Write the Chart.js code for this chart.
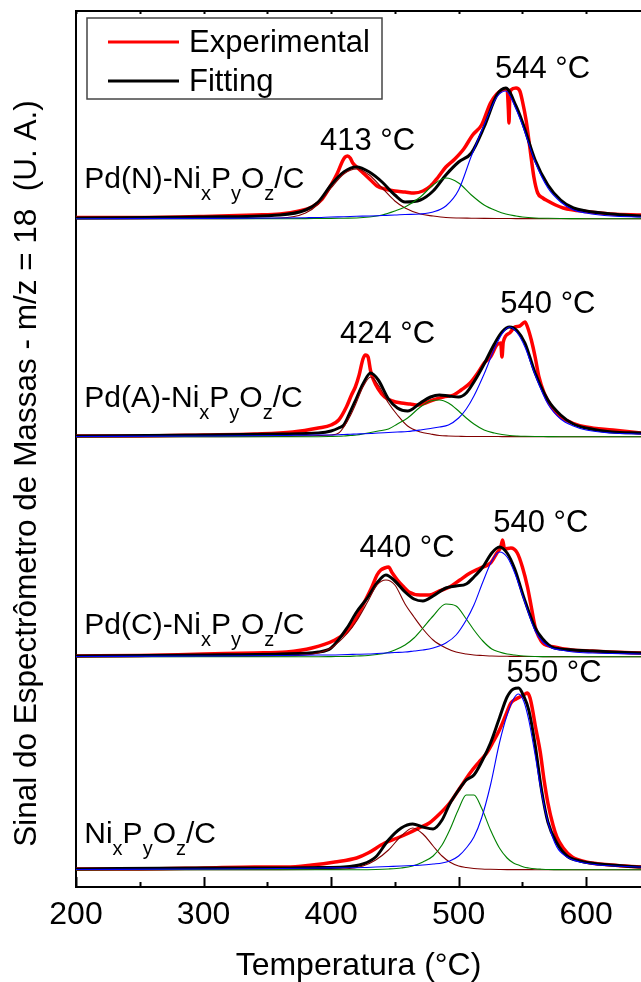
<!DOCTYPE html>
<html>
<head>
<meta charset="utf-8">
<script src="https://cdn.jsdelivr.net/npm/chart.js@4.4.1/dist/chart.umd.min.js"></script>
<style>
  html, body { margin: 0; padding: 0; background: #fff; overflow: hidden; }
  canvas { display: block; }
</style>
</head>
<body>
<canvas id="tpd-chart" width="641" height="982"></canvas>
<script>
// TPD-MS (m/z = 18) profiles. Intensities in a.u.,
// each sample shifted up by its offset so the four curves stack.
const FONT = '"Liberation Sans", Arial, sans-serif';

const sampleNames = ['Pd(N)-Ni_xP_yO_z/C', 'Pd(A)-Ni_xP_yO_z/C', 'Pd(C)-Ni_xP_yO_z/C', 'Ni_xP_yO_z/C'];
const sampleOffsets = [66.8, 45.0, 23.0, 1.7];
const peakTexts = ['413 °C', '544 °C', '424 °C', '540 °C', '440 °C', '540 °C', '550 °C'];
const xTickValues = [200, 300, 400, 500, 600];
const seriesNames = ['Experimental', 'Fitting'];

// --- Pd(N)-NixPyOz/C ---
const fitTempN = [200, 300, 360, 380, 390, 400, 410, 420, 430, 440, 450, 458, 470, 480, 490, 500, 510, 520, 530, 537, 545, 550, 560, 570, 580, 590, 600, 620, 643];
const fitTotalN = [0.1, 0.2, 0.4, 0.9, 1.7, 3.4, 4.7, 5.2, 4.7, 3.7, 2.4, 1.7, 1.9, 2.8, 4.4, 5.7, 6.6, 9.2, 12.4, 13.1, 11.3, 9.7, 5.9, 3.4, 1.9, 1.1, 0.8, 0.5, 0.3];
const peakLowN = [0.02, 0.03, 0.1, 0.6, 1.5, 3.1, 4.5, 5.0, 4.4, 3.1, 1.8, 1.1, 0.5, 0.3, 0.15, 0.1, 0.08, 0.06, 0.05, 0.05, 0.04, 0.04, 0.04, 0.03, 0.03, 0.03, 0.03, 0.02, 0.02];
const peakMidN = [0.02, 0.02, 0.03, 0.04, 0.05, 0.06, 0.08, 0.1, 0.2, 0.4, 0.8, 1.2, 2.2, 3.4, 4.1, 3.6, 2.4, 1.4, 0.8, 0.5, 0.3, 0.2, 0.1, 0.07, 0.05, 0.04, 0.03, 0.03, 0.02];
const peakHighN = [0.03, 0.06, 0.1, 0.13, 0.15, 0.2, 0.23, 0.27, 0.3, 0.35, 0.4, 0.45, 0.5, 0.7, 1.3, 2.9, 6.3, 9.4, 12.2, 12.8, 11.0, 9.4, 5.7, 3.1, 1.7, 0.9, 0.6, 0.3, 0.2];
const expTempN = [200, 250, 300, 340, 360, 375, 385, 393, 400, 405, 409, 411, 413, 415, 417, 421, 426, 431, 436, 442, 450, 458, 465, 472, 478, 484, 490, 497, 504, 511, 518, 525, 530, 534, 538, 539, 539.5, 540, 541, 545, 548, 550, 553, 556, 559, 562, 566, 570, 576, 582, 590, 603, 620, 643];
const expSignalN = [0.15, 0.15, 0.25, 0.4, 0.5, 0.8, 1.2, 2.0, 3.4, 4.6, 5.8, 6.2, 6.3, 6.1, 5.6, 5.1, 4.5, 3.9, 3.3, 3.0, 2.8, 2.7, 2.6, 2.8, 3.3, 4.2, 5.2, 6.0, 7.0, 8.4, 9.4, 11.6, 12.5, 12.9, 13.0, 11.0, 9.6, 11.8, 12.9, 13.1, 12.8, 11.8, 9.8, 7.0, 4.2, 2.6, 2.1, 1.8, 1.4, 1.1, 0.9, 0.7, 0.5, 0.4];

// --- Pd(A)-NixPyOz/C ---
const fitTempA = [200, 300, 360, 390, 400, 406, 410, 415, 420, 425, 431, 437, 445, 452, 460, 470, 478, 485, 492, 500, 506, 512, 520, 528, 534, 540, 546, 552, 560, 570, 580, 590, 600, 620, 643];
const fitTotalA = [0.1, 0.2, 0.3, 0.4, 0.6, 0.9, 1.2, 2.5, 3.9, 5.3, 6.4, 5.7, 3.8, 2.9, 2.6, 3.4, 4.0, 4.2, 4.1, 4.0, 4.4, 5.5, 7.3, 9.3, 10.5, 11.0, 10.6, 9.4, 6.4, 3.7, 2.2, 1.3, 0.9, 0.5, 0.4];
const peakLowA = [0.02, 0.03, 0.05, 0.15, 0.2, 0.4, 1.0, 2.1, 3.5, 5.0, 6.0, 5.2, 3.4, 2.2, 1.1, 0.5, 0.3, 0.15, 0.1, 0.07, 0.05, 0.05, 0.05, 0.05, 0.04, 0.04, 0.04, 0.04, 0.03, 0.03, 0.03, 0.03, 0.02, 0.02, 0.02];
const peakMidA = [0.02, 0.02, 0.03, 0.03, 0.05, 0.07, 0.1, 0.15, 0.2, 0.3, 0.45, 0.6, 0.8, 1.3, 1.9, 3.0, 3.6, 3.7, 3.4, 2.6, 1.9, 1.3, 0.7, 0.4, 0.25, 0.15, 0.1, 0.07, 0.05, 0.04, 0.03, 0.03, 0.03, 0.03, 0.03];
const peakHighA = [0.05, 0.1, 0.15, 0.2, 0.2, 0.22, 0.25, 0.27, 0.3, 0.32, 0.35, 0.4, 0.45, 0.5, 0.55, 0.7, 0.85, 1.0, 1.2, 1.9, 2.8, 4.1, 6.3, 8.8, 10.3, 11.0, 10.4, 9.0, 6.2, 3.3, 1.8, 1.1, 0.7, 0.4, 0.3];
const expTempA = [200, 250, 300, 340, 370, 390, 400, 406, 412, 416, 419, 422, 425, 427, 429, 431, 433, 437, 442, 448, 455, 462, 468, 474, 480, 488, 496, 502, 509, 515, 520, 525, 530, 533, 534, 535, 540, 544, 548, 552, 554, 557, 560, 563, 567, 573, 580, 589, 600, 621, 643];
const expSignalA = [0.1, 0.1, 0.2, 0.3, 0.5, 0.9, 1.2, 1.7, 3.0, 4.2, 5.0, 6.2, 7.8, 8.2, 8.0, 6.6, 5.8, 4.8, 4.0, 3.6, 3.4, 3.3, 3.2, 3.4, 3.7, 4.0, 4.2, 4.7, 5.4, 6.4, 7.4, 8.0, 9.2, 9.4, 8.0, 9.5, 10.4, 11.0, 11.1, 11.5, 11.0, 9.7, 8.0, 6.0, 4.4, 3.0, 2.0, 1.4, 1.0, 0.7, 0.4];

// --- Pd(C)-NixPyOz/C ---
const fitTempC = [200, 300, 360, 390, 400, 413, 420, 429, 436, 443, 450, 458, 465, 472, 480, 490, 498, 506, 512, 519, 526, 532, 538, 544, 551, 560, 566, 573, 580, 590, 605, 620, 643];
const fitTotalC = [0.1, 0.2, 0.3, 0.5, 0.9, 3.0, 4.5, 6.0, 7.4, 8.2, 7.6, 6.5, 5.8, 5.6, 6.1, 6.9, 7.1, 7.3, 8.0, 9.0, 10.4, 11.0, 10.4, 8.8, 6.0, 2.9, 1.8, 1.0, 0.8, 0.7, 0.6, 0.5, 0.4];
const peakLowC = [0.02, 0.05, 0.1, 0.4, 0.9, 2.4, 3.6, 5.6, 7.2, 7.7, 7.2, 5.3, 4.0, 2.8, 1.7, 0.9, 0.5, 0.3, 0.2, 0.15, 0.1, 0.08, 0.07, 0.06, 0.05, 0.05, 0.04, 0.04, 0.04, 0.03, 0.03, 0.03, 0.03];
const peakMidC = [0.02, 0.02, 0.03, 0.03, 0.04, 0.06, 0.1, 0.15, 0.25, 0.4, 0.7, 1.2, 1.9, 2.9, 4.1, 5.3, 5.1, 3.8, 2.7, 1.6, 0.8, 0.5, 0.3, 0.2, 0.1, 0.05, 0.04, 0.03, 0.03, 0.03, 0.03, 0.03, 0.03];
const peakHighC = [0.05, 0.1, 0.15, 0.2, 0.2, 0.25, 0.27, 0.3, 0.35, 0.4, 0.45, 0.5, 0.6, 0.7, 0.9, 1.4, 2.2, 3.7, 5.2, 7.5, 9.6, 10.5, 10.0, 8.4, 5.8, 2.6, 1.5, 0.9, 0.7, 0.5, 0.4, 0.35, 0.3];
const expTempC = [200, 250, 300, 340, 365, 385, 403, 412, 419, 425, 432, 436, 439, 442, 445, 448, 452, 457, 461, 470, 477, 485, 493, 501, 509, 517, 525, 530, 533, 534.5, 536, 541, 546, 550, 554, 557, 560, 563, 566, 575, 589, 605, 620, 643];
const expSignalC = [0.1, 0.15, 0.3, 0.4, 0.5, 0.9, 1.7, 2.5, 3.7, 5.2, 7.0, 8.2, 8.7, 8.9, 9.0, 8.4, 7.7, 7.0, 6.5, 6.2, 6.2, 6.6, 7.0, 7.7, 8.4, 8.9, 9.4, 10.4, 11.0, 11.7, 10.8, 10.9, 10.4, 9.0, 7.0, 5.0, 3.0, 2.0, 1.4, 1.0, 0.7, 0.6, 0.5, 0.4];

// --- NixPyOz/C ---
const fitTempNi = [200, 300, 360, 390, 410, 425, 435, 445, 455, 464, 472, 480, 487, 493, 500, 506, 512, 518, 525, 532, 538, 543, 547, 551, 555, 560, 565, 570, 577, 585, 595, 610, 643];
const fitTotalNi = [0.1, 0.2, 0.2, 0.25, 0.3, 0.6, 1.3, 3.0, 4.2, 4.6, 4.3, 4.1, 5.0, 6.6, 8.0, 9.0, 9.5, 10.8, 12.7, 15.2, 17.3, 18.1, 18.2, 17.4, 16.0, 12.5, 8.0, 4.8, 2.7, 1.4, 0.9, 0.6, 0.3];
const peakLowNi = [0.01, 0.02, 0.03, 0.05, 0.1, 0.4, 1.0, 2.0, 3.4, 4.2, 3.6, 2.4, 1.4, 0.8, 0.4, 0.25, 0.15, 0.1, 0.07, 0.05, 0.04, 0.04, 0.04, 0.04, 0.04, 0.03, 0.03, 0.03, 0.03, 0.03, 0.03, 0.02, 0.02];
const peakMidNi = [0.02, 0.02, 0.02, 0.02, 0.02, 0.03, 0.05, 0.1, 0.2, 0.4, 0.8, 1.4, 2.5, 4.0, 6.1, 7.5, 7.5, 6.2, 4.0, 2.2, 1.2, 0.7, 0.5, 0.3, 0.2, 0.12, 0.08, 0.05, 0.04, 0.03, 0.03, 0.03, 0.02];
const peakHighNi = [0.05, 0.1, 0.15, 0.2, 0.22, 0.25, 0.3, 0.35, 0.4, 0.45, 0.5, 0.6, 0.7, 0.9, 1.4, 2.2, 3.3, 5.2, 8.5, 12.7, 15.5, 17.1, 17.6, 16.9, 15.0, 11.5, 7.7, 4.8, 2.3, 1.3, 0.8, 0.5, 0.3];
const expTempNi = [200, 250, 300, 340, 365, 385, 403, 420, 429, 442, 452, 461, 469, 477, 485, 493, 501, 509, 516, 522, 527, 532, 537, 541, 545, 548, 551, 554, 556, 558, 560, 564, 567, 570, 574, 577, 582, 589, 600, 620, 643];
const expSignalNi = [0.1, 0.1, 0.2, 0.3, 0.3, 0.5, 0.8, 1.2, 1.7, 2.7, 3.2, 3.7, 4.2, 4.7, 5.6, 6.7, 8.2, 9.7, 10.8, 11.7, 12.8, 14.0, 15.5, 16.7, 17.1, 17.3, 17.5, 17.7, 17.2, 16.0, 14.5, 11.8, 9.0, 6.7, 4.5, 3.3, 2.2, 1.3, 0.8, 0.5, 0.3];

// colours
const COLORS = { exp: '#ff0000', fit: '#000000', low: '#800000', mid: '#008000', high: '#0000ff' };

// group the per-sample arrays
const panels = [
  { fitT: fitTempN, total: fitTotalN, low: peakLowN, mid: peakMidN, high: peakHighN, expT: expTempN, exp: expSignalN },
  { fitT: fitTempA, total: fitTotalA, low: peakLowA, mid: peakMidA, high: peakHighA, expT: expTempA, exp: expSignalA },
  { fitT: fitTempC, total: fitTotalC, low: peakLowC, mid: peakMidC, high: peakHighC, expT: expTempC, exp: expSignalC },
  { fitT: fitTempNi, total: fitTotalNi, low: peakLowNi, mid: peakMidNi, high: peakHighNi, expT: expTempNi, exp: expSignalNi }
];

function points(xs, ys, offset) {
  return xs.map((x, i) => ({ x: x, y: ys[i] + offset }));
}

function lineSet(label, data, color, width, order) {
  return {
    label: label,
    data: data,
    borderColor: color,
    borderWidth: width,
    pointRadius: 0,
    fill: false,
    cubicInterpolationMode: 'monotone',
    order: order
  };
}

const datasets = [];
panels.forEach((p, i) => {
  const off = sampleOffsets[i];
  datasets.push(lineSet(seriesNames[0], points(p.expT, p.exp, off), COLORS.exp, 3.5, 4));
  datasets.push(lineSet(seriesNames[1], points(p.fitT, p.total, off), COLORS.fit, 3, 3));
  datasets.push(lineSet('low', points(p.fitT, p.low, off), COLORS.low, 1.1, 2));
  datasets.push(lineSet('mid', points(p.fitT, p.mid, off), COLORS.mid, 1.1, 1));
  datasets.push(lineSet('high', points(p.fitT, p.high, off), COLORS.high, 1.1, 0));
});

// where the texts sit, in data units (temperature, a.u.)
const sampleLabelPos = [[206.5, 69.9], [206.5, 48.0], [206.5, 25.3], [206.5, 4.4]];
const peakLabelPos = [[428.6, 73.7], [565.8, 80.9], [444.3, 54.4], [570.0, 57.4], [459.5, 33.0], [564.4, 35.5], [574.8, 20.5]];

function drawSubText(ctx, text, x, y) {
  text.split(/(_.)/).filter(Boolean).forEach(part => {
    if (part[0] === '_') {
      ctx.font = '20px ' + FONT;
      ctx.fillText(part[1], x, y + 12);
      x += ctx.measureText(part[1]).width;
    } else {
      ctx.font = '30px ' + FONT;
      ctx.fillText(part, x, y);
      x += ctx.measureText(part).width;
    }
  });
}

const decorations = {
  id: 'decorations',
  afterDraw(chart) {
    const { ctx, chartArea: area, scales: { x, y } } = chart;
    ctx.save();
    ctx.fillStyle = '#000';
    ctx.textBaseline = 'alphabetic';

    // inward tick marks (bottom and mirrored top)
    ctx.strokeStyle = '#000';
    ctx.lineWidth = 2;
    for (let t = 200; t <= x.max; t += 50) {
      const px = Math.round(x.getPixelForValue(t)) + 0.5;
      const major = t % 100 === 0;
      ctx.beginPath();
      ctx.moveTo(px, area.bottom);
      ctx.lineTo(px, area.bottom - (major ? 10 : 5));
      ctx.moveTo(px, area.top);
      ctx.lineTo(px, area.top + 3);
      ctx.stroke();
    }

    // sample names with subscripts
    ctx.textAlign = 'left';
    sampleNames.forEach((name, i) => {
      const [tx, ty] = sampleLabelPos[i];
      drawSubText(ctx, name, x.getPixelForValue(tx), y.getPixelForValue(ty));
    });

    // peak maxima
    ctx.textAlign = 'center';
    ctx.font = '31px ' + FONT;
    peakTexts.forEach((txt, i) => {
      const [tx, ty] = peakLabelPos[i];
      ctx.fillText(txt, x.getPixelForValue(tx), y.getPixelForValue(ty));
    });

    // y axis title
    ctx.save();
    ctx.translate(area.left - 49, area.top + 462.5);
    ctx.rotate(-Math.PI / 2);
    ctx.textAlign = 'center';
    ctx.textBaseline = 'middle';
    ctx.font = '31.5px ' + FONT;
    ctx.fillText('Sinal do Espectrômetro de Massas - m/z = 18  (U. A.)', 0, 0);
    ctx.restore();

    // legend box
    const lx = area.left + 11, ly = area.top + 7;
    ctx.fillStyle = '#fff';
    ctx.fillRect(lx, ly, 295, 81);
    ctx.strokeStyle = '#444';
    ctx.lineWidth = 1.5;
    ctx.strokeRect(lx, ly, 295, 81);
    [COLORS.exp, COLORS.fit].forEach((c, i) => {
      const ry = ly + 24 + i * 39;
      ctx.strokeStyle = c;
      ctx.lineWidth = 3;
      ctx.beginPath();
      ctx.moveTo(lx + 21, ry);
      ctx.lineTo(lx + 92, ry);
      ctx.stroke();
      ctx.fillStyle = '#000';
      ctx.textAlign = 'left';
      ctx.textBaseline = 'middle';
      ctx.font = '31px ' + FONT;
      ctx.fillText(seriesNames[i], lx + 102, ry + 1);
    });
    ctx.restore();
  }
};

const ctx = document.getElementById('tpd-chart').getContext('2d');
new Chart(ctx, {
  type: 'line',
  data: { datasets: datasets },
  options: {
    responsive: false,
    animation: false,
    devicePixelRatio: 1,
    layout: { padding: { left: 0, top: 11, right: 0, bottom: 0 } },
    plugins: { legend: { display: false }, tooltip: { enabled: false } },
    scales: {
      x: {
        type: 'linear',
        position: 'bottom',
        min: 200,
        max: 643,
        afterBuildTicks: scale => { scale.ticks = xTickValues.map(v => ({ value: v })); },
        afterFit: scale => { scale.height = 95; },
        grid: { display: false, drawTicks: false },
        border: { display: true, color: '#000', width: 2 },
        ticks: { color: '#000', padding: 12, maxRotation: 0, font: { family: FONT, size: 32, lineHeight: 1 } },
        title: {
          display: true,
          text: 'Temperatura (°C)',
          color: '#000',
          font: { family: FONT, size: 32, lineHeight: 1 },
          padding: { top: 0, bottom: 0 }
        }
      },
      x2: {
        type: 'linear',
        axis: 'x',
        position: 'top',
        min: 200,
        max: 643,
        afterFit: scale => { scale.height = 0; },
        grid: { display: false, drawTicks: false },
        border: { display: true, color: '#000', width: 2 },
        ticks: { display: false }
      },
      y: {
        type: 'linear',
        min: 0,
        max: 87.6,
        afterFit: scale => { scale.width = 76; },
        grid: { display: false, drawTicks: false },
        border: { display: true, color: '#000', width: 2 },
        ticks: { display: false }
      }
    }
  },
  plugins: [decorations]
});
</script>
</body>
</html>
